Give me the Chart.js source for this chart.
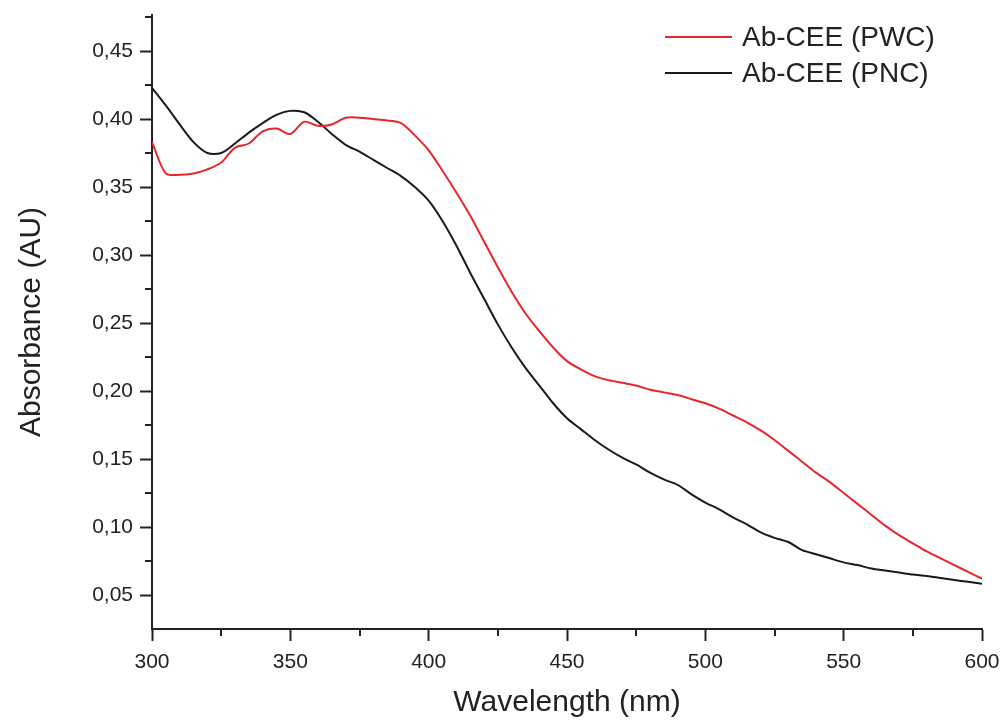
<!DOCTYPE html>
<html>
<head>
<meta charset="utf-8">
<script src="https://cdn.jsdelivr.net/npm/chart.js@4.4.0/dist/chart.umd.min.js"></script>
<style>
  body { margin: 0; background: #fff; }
  #wrap { width: 1005px; height: 723px; position: relative; }
</style>
</head>
<body>
<div id="wrap"><canvas id="absChart"></canvas></div>
<script>
var wavelength = [300,305,310,315,320,325,330,335,340,345,350,355,360,365,370,375,380,385,390,395,
                  400,405,410,415,420,425,430,435,440,445,450,455,460,465,470,475,480,485,490,495,
                  500,505,510,515,520,525,530,535,540,545,550,555,560,565,570,575,580,585,590,595,600];

// Ab-CEE (PWC), red
var pwc = [0.383,0.360,0.359,0.360,0.363,0.368,0.379,0.382,0.391,0.393,0.389,0.398,0.395,0.396,0.401,0.401,0.400,0.399,0.397,0.388,
           0.377,0.362,0.346,0.329,0.310,0.291,0.273,0.257,0.244,0.232,0.222,0.216,0.211,0.208,0.206,0.204,0.201,0.199,0.197,0.194,
           0.191,0.187,0.182,0.177,0.171,0.164,0.156,0.148,0.140,0.133,0.125,0.117,0.109,0.101,0.094,0.088,0.082,0.077,0.072,0.067,0.062];

// Ab-CEE (PNC), black
var pnc = [0.423,0.410,0.396,0.383,0.375,0.375,0.382,0.390,0.397,0.403,0.406,0.405,0.398,0.389,0.381,0.376,0.370,0.364,0.358,0.350,
           0.340,0.325,0.307,0.287,0.268,0.249,0.232,0.217,0.204,0.191,0.180,0.172,0.164,0.157,0.151,0.146,0.140,0.135,0.131,0.124,
           0.118,0.113,0.107,0.102,0.096,0.092,0.089,0.083,0.080,0.077,0.074,0.072,0.0695,0.068,0.0665,0.065,0.064,0.0625,0.061,0.0597,0.0583];

var yTicks = [0.05,0.10,0.15,0.20,0.25,0.30,0.35,0.40,0.45];
var yMinor = [0.075,0.125,0.175,0.225,0.275,0.325,0.375,0.425,0.475];
var xMinor = [325,375,425,475,525,575];

var axisColor = '#222';
var fontFam = '"Liberation Sans", Arial, sans-serif';

function toPoints(vals) {
  return wavelength.map(function(w, i){ return {x: w, y: vals[i]}; });
}

// short minor ticks and the legend box in the upper right
var extras = {
  id: 'extras',
  afterDraw: function(chart) {
    var c = chart.ctx, a = chart.chartArea;
    var xs = chart.scales.x, ys = chart.scales.y;
    c.save();
    c.strokeStyle = axisColor;
    c.lineWidth = 2;
    c.beginPath();
    yMinor.forEach(function(v){
      var py = Math.round(ys.getPixelForValue(v));
      c.moveTo(a.left - 7, py); c.lineTo(a.left, py);
    });
    xMinor.forEach(function(v){
      var px = Math.round(xs.getPixelForValue(v));
      c.moveTo(px, a.bottom); c.lineTo(px, a.bottom + 7);
    });
    c.stroke();

    var x0 = a.right - 317;
    chart.data.datasets.forEach(function(ds, i){
      var y = 37 + i * 36;
      c.strokeStyle = ds.borderColor;
      c.lineWidth = 2;
      c.beginPath(); c.moveTo(x0, y); c.lineTo(x0 + 67, y); c.stroke();
      c.fillStyle = '#222';
      c.font = '28px ' + fontFam;
      c.textBaseline = 'middle';
      c.fillText(ds.label, x0 + 77, y + 1);
    });
    c.restore();
  }
};

new Chart(document.getElementById('absChart'), {
  type: 'line',
  data: {
    datasets: [{
      label: 'Ab-CEE (PWC)',
      data: toPoints(pwc),
      borderColor: '#e8242c',
      borderWidth: 2,
      pointRadius: 0,
      tension: 0.3,
      fill: false
    }, {
      label: 'Ab-CEE (PNC)',
      data: toPoints(pnc),
      borderColor: '#1a1a1a',
      borderWidth: 2,
      pointRadius: 0,
      tension: 0.3,
      fill: false
    }]
  },
  options: {
    responsive: true,
    maintainAspectRatio: false,
    animation: false,
    layout: { padding: { left: 0, top: 15, right: 23, bottom: 0 } },
    plugins: { legend: { display: false }, tooltip: { enabled: false } },
    scales: {
      x: {
        type: 'linear',
        min: 300,
        max: 600,
        ticks: { stepSize: 50, color: '#222', padding: 9, font: { size: 21, family: fontFam } },
        grid: { drawOnChartArea: false, drawTicks: true, tickLength: 12, tickColor: axisColor, tickWidth: 2 },
        border: { display: true, color: axisColor, width: 2 },
        title: { display: true, text: 'Wavelength (nm)', color: '#222', padding: { top: 0, bottom: 2 },
                 font: { size: 30, family: fontFam } },
        afterFit: function(s) { s.height = 94; s.paddingLeft = 0; s.paddingRight = 0; }
      },
      y: {
        min: 0.025,
        max: 0.4765,
        afterBuildTicks: function(s) { s.ticks = yTicks.map(function(v){ return {value: v}; }); },
        ticks: {
          color: '#222', padding: 7,
          font: { size: 21, family: fontFam },
          callback: function(v) { return v.toFixed(2).replace('.', ','); }
        },
        grid: { drawOnChartArea: false, drawTicks: true, tickLength: 12, tickColor: axisColor, tickWidth: 2 },
        border: { display: true, color: axisColor, width: 2 },
        title: { display: true, text: 'Absorbance (AU)', color: '#222', padding: { top: 14, bottom: 0 },
                 font: { size: 30, family: fontFam } },
        afterFit: function(s) { s.width = 152; s.paddingTop = 0; s.paddingBottom = 0; }
      }
    }
  },
  plugins: [extras]
});
</script>
</body>
</html>
